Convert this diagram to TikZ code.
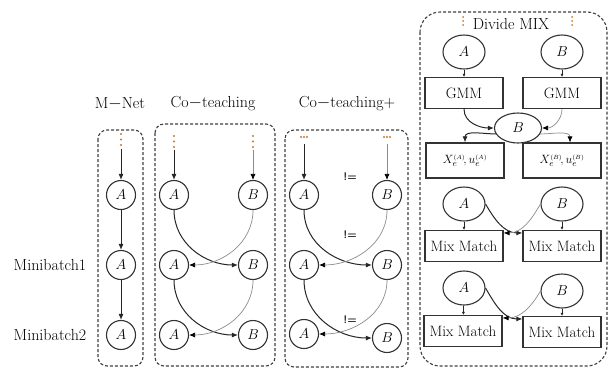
\documentclass[tikz,border=0pt]{standalone}
\usetikzlibrary{arrows.meta,shapes.geometric}
\definecolor{dotc}{RGB}{200,120,40}
\tikzset{
	net/.style={circle,draw=black!80,line width=1.1pt,minimum size=29pt,inner sep=0pt,font=\fontsize{14}{16}\selectfont},
	netell/.style={ellipse,draw=black!80,line width=1.1pt,minimum width=42pt,minimum height=34pt,inner sep=0pt,font=\fontsize{14}{16}\selectfont},
	blk/.style={draw=black!80,line width=1.1pt,minimum width=78pt,minimum height=31pt,inner sep=0pt,font=\fontsize{15}{18}\selectfont},
	panel/.style={draw=black!75,line width=1.1pt,dash pattern=on 3pt off 2pt,rounded corners=9pt},
	ttl/.style={font=\fontsize{16}{19}\selectfont},
	neq/.style={font=\sffamily\bfseries\fontsize{11}{13}\selectfont,text=black!85},
	arr/.style={-{Latex[length=6pt,width=5pt]},line width=1pt,draw=black!85},
	garr/.style={-{Latex[length=6pt,width=5pt,black]},line width=0.7pt,draw=black!45},
	sarr/.style={-{Latex[length=3pt,width=3pt]},line width=0.8pt,draw=black!85}
}
\begin{document}
\begin{tikzpicture}[x=1pt,y=-1pt]
	\useasboundingbox (0,0) rectangle (615,368);

	% подписи мини-батчей
	\node[ttl] (lb1) at (50,265) {Minibatch1};
	\node[ttl] (lb2) at (50,335) {Minibatch2};

	% M-Net
	\draw[panel] (98,130) rectangle (143,366);
	\node[ttl] (tM) at (120,104) {M$-$Net};
	\foreach \y in {134,139.5,145} \fill[dotc] (121,\y) circle (1.2pt);
	\coordinate (sM) at (121,149);
	\node[net] (m1) at (121,195) {$A$};
	\node[net] (m2) at (121,265) {$A$};
	\node[net] (m3) at (121,335) {$A$};
	\draw[arr] (sM) -- (m1);
	\draw[arr] (m1) -- (m2);
	\draw[arr] (m2) -- (m3);

	% Co-teaching
	\draw[panel] (155,124) rectangle (275,366);
	\node[ttl] (tC) at (213,104) {Co$-$teaching};
	\foreach \y in {136,141.5,147} {
		\fill[dotc] (174,\y) circle (1.2pt);
		\fill[dotc] (253,\y) circle (1.2pt);
	}
	\coordinate (sCa) at (174,150);
	\coordinate (sCb) at (253,150);
	\node[net] (c1a) at (174,195) {$A$};
	\node[net] (c1b) at (253,195) {$B$};
	\node[net] (c2a) at (174,265) {$A$};
	\node[net] (c2b) at (253,265) {$B$};
	\node[net] (c3a) at (174,335) {$A$};
	\node[net] (c3b) at (253,335) {$B$};
	\draw[arr] (sCa) -- (c1a);
	\draw[garr] (sCb) -- (c1b);
	\draw[arr] (c1a) to[out=-90,in=180] (c2b);
	\draw[garr] (c1b) to[out=-90,in=0] (c2a);
	\draw[arr] (c2a) to[out=-90,in=180] (c3b);
	\draw[garr] (c2b) to[out=-90,in=0] (c3a);

	% Co-teaching+
	\draw[panel] (285,130) rectangle (408,367);
	\node[ttl] (tP) at (347,104) {Co$-$teaching+};
	\foreach \x in {-3,0,3} {
		\fill[dotc] ({304+\x},137) circle (1.1pt);
		\fill[dotc] ({387+\x},137) circle (1.1pt);
	}
	\coordinate (sPa) at (304,144);
	\coordinate (sPb) at (387,144);
	\node[net] (p1a) at (304,195) {$A$};
	\node[net] (p1b) at (387,195) {$B$};
	\node[net] (p2a) at (304,265) {$A$};
	\node[net] (p2b) at (387,265) {$B$};
	\node[net] (p3a) at (304,334) {$A$};
	\node[net] (p3b) at (387,338) {$B$};
	\node[neq] (q1) at (350,177) {!=};
	\node[neq] (q2) at (350,235) {!=};
	\node[neq] (q3) at (350,320) {!=};
	\draw[arr] (sPa) -- (p1a);
	\draw[garr] (sPb) -- (p1b);
	\draw[arr] (p1a) to[out=-90,in=180] (p2b);
	\draw[garr] (p1b) to[out=-90,in=0] (p2a);
	\draw[arr] (p2a) to[out=-90,in=180] (p3b);
	\draw[garr] (p2b) to[out=-90,in=0] (p3a);

	% Divide MIX
	\draw[panel,rounded corners=20pt] (420,12) rectangle (607,366);
	\node[ttl] (tD) at (511,24) {Divide MIX};
	\foreach \y in {17,21,25} {
		\fill[dotc] (463,\y) circle (1pt);
		\fill[dotc] (572,\y) circle (1pt);
	}
	\node[netell] (dA) at (464,52) {$A$};
	\node[netell] (dB) at (562,52) {$B$};
	\node[blk] (gL) at (464,93) {GMM};
	\node[blk] (gR) at (562,93) {GMM};
	\node[netell,minimum width=47pt,minimum height=30pt] (dM) at (518,128) {$B$};
	\node[blk,minimum height=35pt,font=\fontsize{13}{15}\selectfont] (xL) at (465,160.5)
		{$X_e^{\scriptscriptstyle(A)}\!, u_e^{\scriptscriptstyle(A)}$};
	\node[blk,minimum height=35pt,font=\fontsize{13}{15}\selectfont] (xR) at (562,160.5)
		{$X_e^{\scriptscriptstyle(B)}\!, u_e^{\scriptscriptstyle(B)}$};
	\draw[sarr] (dA) -- (gL);
	\draw[sarr] (dB) -- (gR);
	\draw[arr] (gL.south) to[out=-90,in=180] (dM.west);
	\draw[garr] (gR.south) to[out=-90,in=0] (dM.east);
	\draw[arr] (dM.195) to[out=180,in=90] (xL.north);
	\draw[garr] (dM.-15) to[out=0,in=90] ([xshift=8pt]xR.north);

	% Mix Match, шаг 1
	\node[netell] (mA1) at (464,204) {$A$};
	\node[netell] (mB1) at (562,204) {$B$};
	\node[blk] (mL1) at (464,246) {Mix Match};
	\node[blk] (mR1) at (562,246) {Mix Match};
	\draw[sarr] (mA1) -- (mL1);
	\draw[sarr] (mB1) -- (mR1);
	\draw[arr] (mA1.east) to[out=-60,in=180] ([yshift=-3pt]mR1.north west);
	\draw[garr] (mB1.west) to[out=-120,in=0] ([yshift=-3pt]mL1.north east);

	% Mix Match, шаг 2
	\node[netell] (mA2) at (464,288) {$A$};
	\node[netell] (mB2) at (562,291) {$B$};
	\node[blk] (mL2) at (463,331) {Mix Match};
	\node[blk] (mR2) at (562,332) {Mix Match};
	\draw[sarr] (mA2) -- (mL2);
	\draw[sarr] (mB2) -- (mR2);
	\draw[arr] (mA2.east) to[out=-60,in=180] ([yshift=-3pt]mR2.north west);
	\draw[garr] (mB2.west) to[out=-120,in=0] ([yshift=-3pt]mL2.north east);
\end{tikzpicture}
\end{document}
